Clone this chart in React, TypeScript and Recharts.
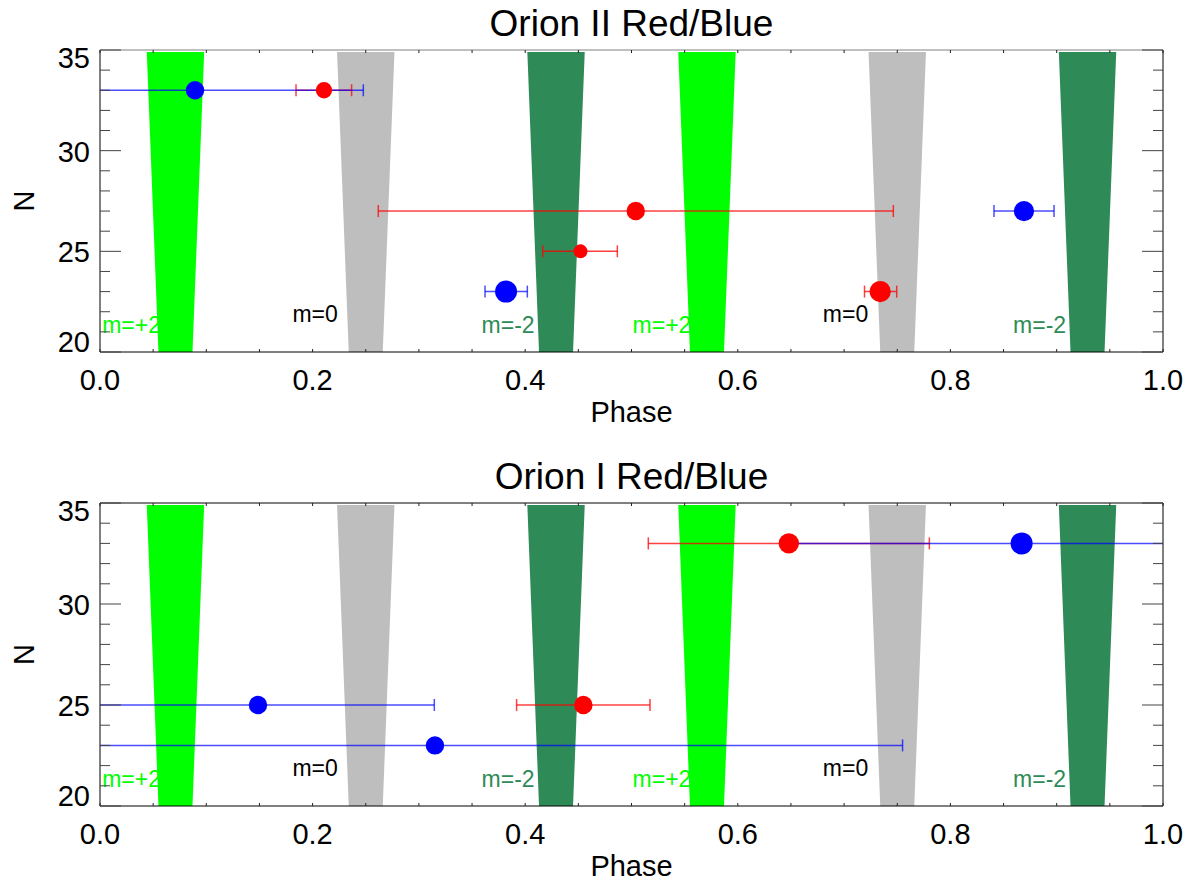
import React from 'react';
import { ScatterChart, Scatter, XAxis, YAxis, ZAxis, ErrorBar, ReferenceArea, ReferenceDot } from 'recharts';

const FONT = '"Liberation Sans", Arial, Helvetica, sans-serif';

// axis ticks
const xTicks = [0, 0.05, 0.1, 0.15, 0.2, 0.25, 0.3, 0.35, 0.4, 0.45, 0.5, 0.55, 0.6, 0.65, 0.7, 0.75, 0.8, 0.85, 0.9, 0.95, 1.0];
const xMajor = [0, 0.2, 0.4, 0.6, 0.8, 1.0];
const yTicks = [20, 21, 22, 23, 24, 25, 26, 27, 28, 29, 30, 31, 32, 33, 34, 35];
const yMajor = [20, 25, 30, 35];

// mode wedges
const bandCenters = [0.071, 0.25, 0.429, 0.571, 0.75, 0.929];
const bandModes = ['m=+2', 'm=0', 'm=-2', 'm=+2', 'm=0', 'm=-2'];
const bandHalfTop = 0.027;
const bandHalfBottom = 0.016;
const bandNTop = 34.9;
const bandNBottom = 20;

// mode labels
const labelPhase = [0.002, 0.181, 0.359, 0.501, 0.68, 0.859];
const labelN = [20.95, 21.5, 20.95, 20.95, 21.5, 20.95];

const modeColor: Record<string, string> = { 'm=+2': '#00ff00', 'm=0': '#bebebe', 'm=-2': '#2e8b57' };
const modeText: Record<string, string> = { 'm=+2': '#00ff00', 'm=0': '#000000', 'm=-2': '#2e8b57' };

// Orion II
const o2RedPhase = [0.2107, 0.504, 0.452, 0.734];
const o2RedN = [33, 27, 25, 23];
const o2RedLo = [0.0263, 0.2422, 0.0355, 0.0148];
const o2RedHi = [0.026, 0.2423, 0.0347, 0.0155];
const o2RedW = [8, 9, 7, 10.5];

const o2BluePhase = [0.0894, 0.382, 0.8692];
const o2BlueN = [33, 23, 27];
const o2BlueLo = [0.158, 0.0198, 0.0282];
const o2BlueHi = [0.1583, 0.02, 0.0283];
const o2BlueW = [9, 11, 10];

// Orion I
const o1RedPhase = [0.648, 0.4547];
const o1RedN = [33, 25];
const o1RedLo = [0.1322, 0.0628];
const o1RedHi = [0.1322, 0.0627];
const o1RedW = [10, 9];

const o1BluePhase = [0.867, 0.3151, 0.1486];
const o1BlueN = [33, 23, 25];
const o1BlueLo = [0.2154, 0.44, 0.166];
const o1BlueHi = [0.2154, 0.4399, 0.1659];
const o1BlueW = [11, 9, 9];

const pts = (ph: number[], n: number[], lo: number[], hi: number[], w: number[]) =>
  ph.map((p, i) => ({ phase: p, n: n[i], err: [lo[i], hi[i]], w: w[i] }));

const BottomTick = (props: any) => {
  const { x, y, payload } = props;
  const v = payload.value;
  const major = xMajor.includes(v);
  return (
    <g>
      <line x1={x} x2={x} y1={y} y2={y - 3} stroke="#222" />
      {major && (
        <text x={x} y={y + 38} textAnchor="middle" fontSize={29} fontFamily={FONT} fill="#000">
          {v.toFixed(1)}
        </text>
      )}
    </g>
  );
};

const TopTick = (props: any) => {
  const { x, y } = props;
  return <line x1={x} x2={x} y1={y} y2={y + 3} stroke="#222" />;
};

const LeftTick = (props: any) => {
  const { x, y, payload } = props;
  const v = payload.value;
  const major = yMajor.includes(v);
  const dy = v === 35 ? 18 : v === 20 ? 0 : 11;
  return (
    <g>
      <line x1={x} x2={x + (major ? 21 : 10)} y1={y} y2={y} stroke="#444" />
      {major && (
        <text x={x - 10} y={y + dy} textAnchor="end" fontSize={29} fontFamily={FONT} fill="#000">
          {v}
        </text>
      )}
    </g>
  );
};

const RightTick = (props: any) => {
  const { x, y, payload } = props;
  const major = yMajor.includes(payload.value);
  return <line x1={x} x2={x - (major ? 21 : 10)} y1={y} y2={y} stroke="#444" />;
};

const wedge = (color: string) => (props: any) => {
  const { x, y, width, height } = props;
  const inset = (width * (1 - bandHalfBottom / bandHalfTop)) / 2;
  const d = `M${x},${y} L${x + width},${y} L${x + width - inset},${y + height} L${x + inset},${y + height} Z`;
  return <path d={d} fill={color} stroke="none" />;
};

const noShape = () => <g />;

type PanelProps = {
  idx: number;
  title: string;
  red: any[];
  blue: any[];
  marginTop: number;
  marginBottom: number;
  frameTop: string;
};

const CHART_W = 1197;
const CHART_H = 443;
const LEFT_W = 100;
const RIGHT_M = 33;
const XAXIS_H = 60;

function Panel({ idx, title, red, blue, marginTop, marginBottom, frameTop }: PanelProps) {
  const clipId = `plotclip${idx}`;
  const plotTop = marginTop + 1;
  const plotH = CHART_H - plotTop - marginBottom - XAXIS_H;
  return (
    <div className={`panel${idx}`} style={{ position: 'relative', width: CHART_W, height: CHART_H }}>
      <style>{`.panel${idx} .recharts-errorBar { clip-path: url(#${clipId}); }`}</style>
      <svg width={0} height={0} style={{ position: 'absolute' }}>
        <defs>
          <clipPath id={clipId}>
            <rect x={LEFT_W} y={plotTop} width={CHART_W - LEFT_W - RIGHT_M - 1} height={plotH} />
          </clipPath>
        </defs>
      </svg>
      <div
        style={{
          position: 'absolute',
          left: LEFT_W,
          width: CHART_W - LEFT_W - RIGHT_M - 1,
          top: plotTop - 45,
          textAlign: 'center',
          fontFamily: FONT,
          fontSize: 37,
          lineHeight: '37px',
          color: '#000',
        }}
      >
        {title}
      </div>
      <ScatterChart width={CHART_W} height={CHART_H} margin={{ top: marginTop, right: RIGHT_M, left: 0, bottom: marginBottom }}>
        <XAxis
          type="number"
          dataKey="phase"
          domain={[0, 1]}
          ticks={xTicks}
          interval={0}
          allowDataOverflow
          height={XAXIS_H}
          tickSize={0}
          tickMargin={0}
          tick={BottomTick}
          axisLine={{ stroke: '#000' }}
          label={{
            content: (p: any) => {
              const vb = p.viewBox;
              return (
                <text x={vb.x + vb.width / 2} y={vb.y + 70} textAnchor="middle" fontSize={29} fontFamily={FONT} fill="#000">
                  Phase
                </text>
              );
            },
          }}
        />
        <XAxis
          xAxisId="top"
          orientation="top"
          type="number"
          dataKey="phase"
          domain={[0, 1]}
          ticks={xTicks}
          interval={0}
          allowDataOverflow
          height={1}
          tickSize={0}
          tickMargin={0}
          tick={TopTick}
          axisLine={{ stroke: frameTop }}
        />
        <YAxis
          type="number"
          dataKey="n"
          domain={[20, 35]}
          ticks={yTicks}
          interval={0}
          allowDataOverflow
          width={LEFT_W}
          tickSize={0}
          tickMargin={0}
          tick={LeftTick}
          axisLine={{ stroke: '#000' }}
          label={{
            content: (p: any) => {
              const vb = p.viewBox;
              const cy = vb.y + vb.height / 2;
              return (
                <text
                  x={34}
                  y={cy}
                  transform={`rotate(-90 34 ${cy})`}
                  textAnchor="middle"
                  fontSize={29}
                  fontFamily={FONT}
                  fill="#000"
                >
                  N
                </text>
              );
            },
          }}
        />
        <YAxis
          yAxisId="right"
          orientation="right"
          type="number"
          dataKey="n"
          domain={[20, 35]}
          ticks={yTicks}
          interval={0}
          allowDataOverflow
          width={1}
          tickSize={0}
          tickMargin={0}
          tick={RightTick}
          axisLine={{ stroke: '#000' }}
        />
        <ZAxis type="number" dataKey="w" domain={[7, 11]} range={[154, 380]} />

        {bandModes.map((m, i) => (
          <ReferenceDot
            key={`lab-${i}`}
            x={labelPhase[i]}
            y={labelN[i]}
            r={1}
            fill="none"
            stroke="none"
            label={{
              content: (p: any) => (
                <text x={p.viewBox.x + 1} y={p.viewBox.y + 1} fontSize={23} fontFamily={FONT} fill={modeText[m]}>
                  {m}
                </text>
              ),
            }}
          />
        ))}

        {bandCenters.map((c, i) => (
          <ReferenceArea
            key={`band-${i}`}
            x1={c - bandHalfTop}
            x2={c + bandHalfTop}
            y1={bandNBottom}
            y2={bandNTop}
            shape={wedge(modeColor[bandModes[i]])}
          />
        ))}

        {/* keeps the frame axes (top / right) bound to data */}
        <Scatter data={red} xAxisId="top" yAxisId="right" shape={noShape} isAnimationActive={false} />

        <Scatter data={red} fill="#ff0000" isAnimationActive={false}>
          <ErrorBar
            dataKey="err"
            direction="x"
            width={6}
            stroke="#ff0000"
            strokeWidth={1.5}
            strokeOpacity={0.75}
            isAnimationActive={false}
          />
        </Scatter>
        <Scatter data={blue} fill="#0000ff" isAnimationActive={false}>
          <ErrorBar
            dataKey="err"
            direction="x"
            width={6}
            stroke="#0000ff"
            strokeWidth={1.5}
            strokeOpacity={0.7}
            isAnimationActive={false}
          />
        </Scatter>
      </ScatterChart>
    </div>
  );
}

export default function App() {
  const o2Red = pts(o2RedPhase, o2RedN, o2RedLo, o2RedHi, o2RedW);
  const o2Blue = pts(o2BluePhase, o2BlueN, o2BlueLo, o2BlueHi, o2BlueW);
  const o1Red = pts(o1RedPhase, o1RedN, o1RedLo, o1RedHi, o1RedW);
  const o1Blue = pts(o1BluePhase, o1BlueN, o1BlueLo, o1BlueHi, o1BlueW);
  return (
    <div style={{ position: 'absolute', left: 0, top: 0, width: CHART_W, height: 886, background: '#fff' }}>
      <Panel idx={0} title="Orion II Red/Blue" red={o2Red} blue={o2Blue} marginTop={49} marginBottom={31} frameTop="#808080" />
      <Panel idx={1} title="Orion I Red/Blue" red={o1Red} blue={o1Blue} marginTop={59} marginBottom={20} frameTop="#000" />
    </div>
  );
}
